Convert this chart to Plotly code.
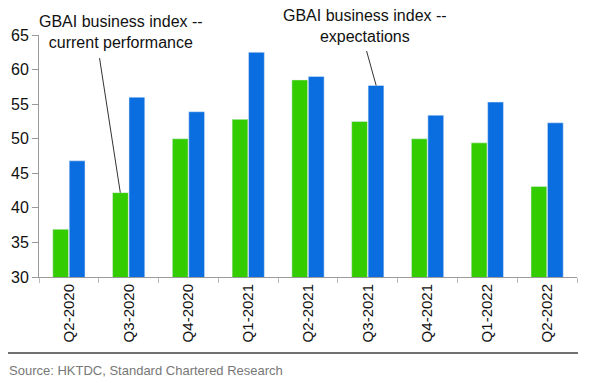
import plotly.graph_objects as go

categories = ["Q2-2020", "Q3-2020", "Q4-2020", "Q1-2021", "Q2-2021",
              "Q3-2021", "Q4-2021", "Q1-2022", "Q2-2022"]
current_perf = [36.9, 42.2, 50.0, 52.8, 58.5, 52.5, 50.0, 49.4, 43.1]
expectations = [46.8, 56.0, 53.9, 62.5, 59.0, 57.7, 53.4, 55.3, 52.3]
y_ticks = [30, 35, 40, 45, 50, 55, 60, 65]

GREEN = "#33CC00"
BLUE = "#0A6EE0"
FONT = "Liberation Sans, Arial, sans-serif"

# page body has an 8px margin; figure is sized/offset to compensate
fig = go.Figure()
fig.add_trace(go.Bar(x=categories, y=current_perf, marker_color=GREEN,
                     name="GBAI business index -- current performance"))
fig.add_trace(go.Bar(x=categories, y=expectations, marker_color=BLUE,
                     name="GBAI business index -- expectations"))

fig.update_layout(
    width=592, height=375,
    margin=dict(l=31, r=23, t=27, b=106, autoexpand=False),
    plot_bgcolor="white", paper_bgcolor="white",
    barmode="group", bargap=0.45, bargroupgap=0.04,
    showlegend=False,
    font=dict(family=FONT, color="#111111"),
)
fig.update_yaxes(range=[30, 65], tickvals=y_ticks, showgrid=False, zeroline=False,
                 showline=True, linecolor="#9a9a9a", linewidth=1, automargin=False,
                 ticks="outside", ticklen=6, tickcolor="#9a9a9a",
                 tickfont=dict(size=16, family=FONT, color="#111111"))
fig.update_xaxes(showgrid=False, showline=True, linecolor="#9a9a9a", linewidth=1,
                 automargin=False,
                 ticks="outside", ticklen=5, tickcolor="#bbbbbb", tickson="boundaries",
                 tickangle=-90, tickfont=dict(size=15, family=FONT, color="#111111"))

# Callout labels
fig.add_annotation(xref="paper", yref="paper", x=(121 - 39) / 538, y=1 + (35 - 32) / 242,
                   text="GBAI business index --<br>current performance", showarrow=False,
                   font=dict(size=16, family=FONT, color="#111111"), align="center",
                   xanchor="center", yanchor="middle")
fig.add_annotation(xref="paper", yref="paper", x=(365 - 39) / 538, y=1 + (35 - 26) / 242,
                   text="GBAI business index --<br>expectations", showarrow=False,
                   font=dict(size=16, family=FONT, color="#111111"), align="center",
                   xanchor="center", yanchor="middle")
# Pointer lines
fig.add_annotation(x=1 - 0.14, y=current_perf[1], xref="x", yref="y",
                   ax=100 - 121, ay=57 - 193, axref="pixel", ayref="pixel",
                   showarrow=True, arrowhead=0, arrowwidth=1, arrowcolor="#333333", text="")
fig.add_annotation(x=5 + 0.14, y=expectations[5], xref="x", yref="y",
                   ax=365 - 375, ay=50 - 86, axref="pixel", ayref="pixel",
                   showarrow=True, arrowhead=0, arrowwidth=1, arrowcolor="#333333", text="")

# Bottom rule and source
fig.add_shape(type="line", xref="paper", yref="paper",
              x0=(8 - 39) / 538, x1=(578 - 39) / 538,
              y0=-(353 - 277) / 242, y1=-(353 - 277) / 242,
              line=dict(color="#707070", width=2))
fig.add_annotation(xref="paper", yref="paper", x=(7 - 39) / 538, y=-(370 - 277) / 242,
                   text="Source: HKTDC, Standard Chartered Research", showarrow=False,
                   xanchor="left", yanchor="middle",
                   font=dict(size=13, family=FONT, color="#777777"))

fig.write_html("out.html")
